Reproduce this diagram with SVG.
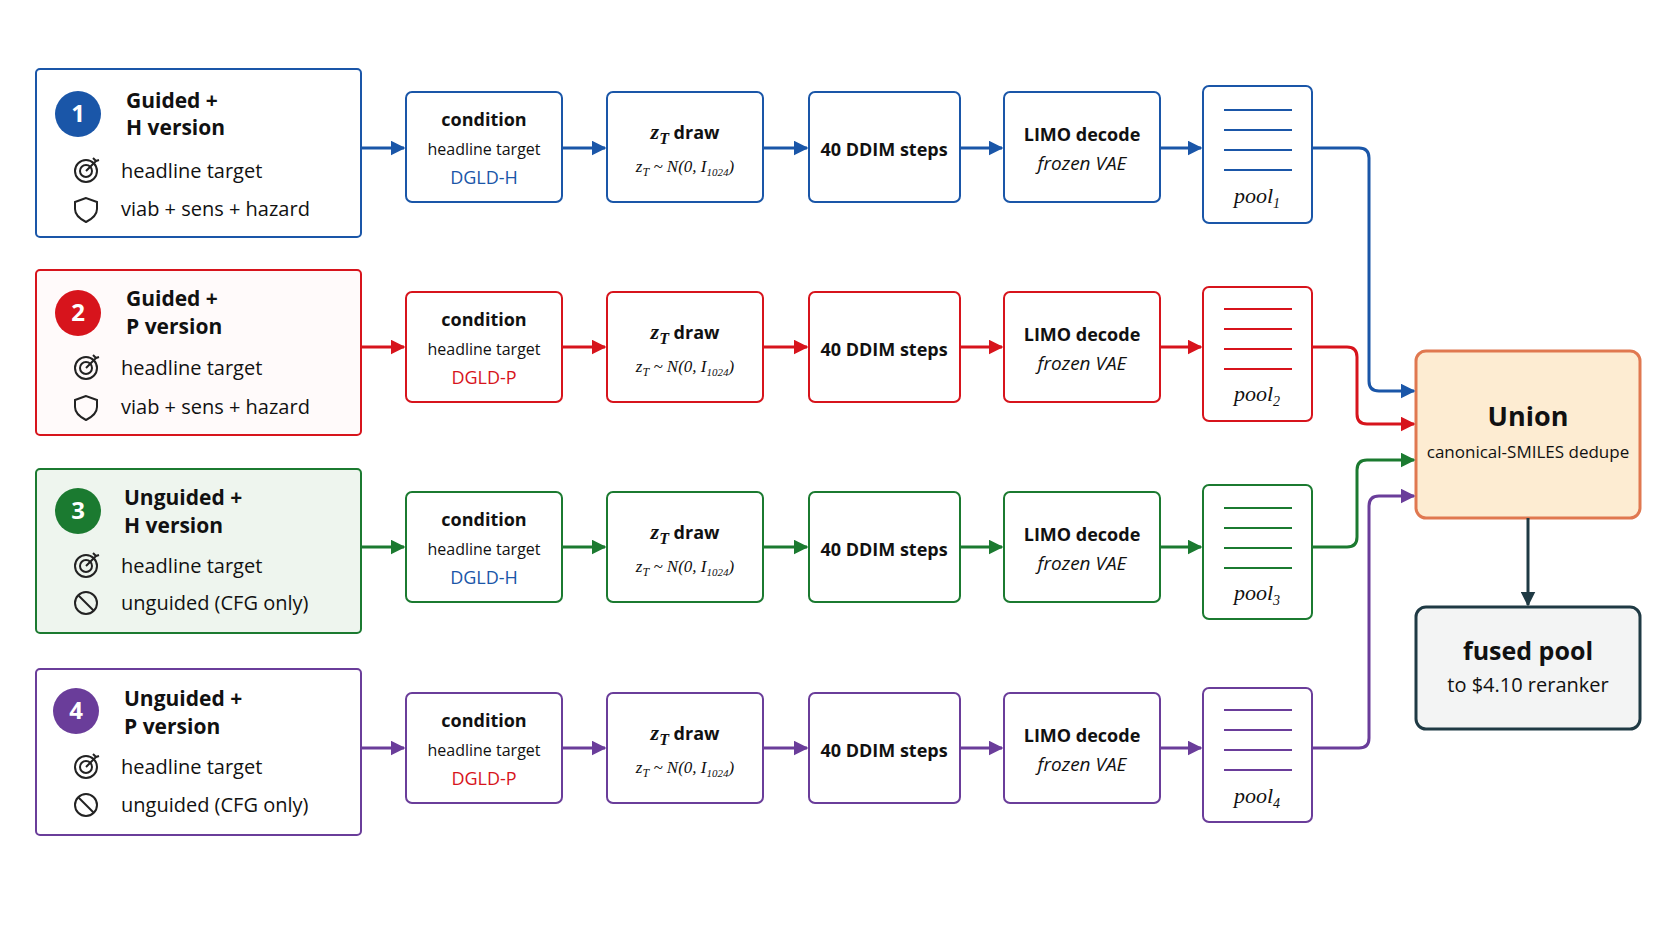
<svg xmlns="http://www.w3.org/2000/svg" width="1672" height="941" viewBox="0 0 1672 941">
<defs>
<marker id="aB" viewBox="0 0 10 10" refX="9" refY="5" markerWidth="5" markerHeight="5" orient="auto" markerUnits="strokeWidth"><path d="M0,0L10,5L0,10z" fill="#1a56a8"/></marker>
<marker id="aR" viewBox="0 0 10 10" refX="9" refY="5" markerWidth="5" markerHeight="5" orient="auto" markerUnits="strokeWidth"><path d="M0,0L10,5L0,10z" fill="#d7141c"/></marker>
<marker id="aG" viewBox="0 0 10 10" refX="9" refY="5" markerWidth="5" markerHeight="5" orient="auto" markerUnits="strokeWidth"><path d="M0,0L10,5L0,10z" fill="#1b7a30"/></marker>
<marker id="aP" viewBox="0 0 10 10" refX="9" refY="5" markerWidth="5" markerHeight="5" orient="auto" markerUnits="strokeWidth"><path d="M0,0L10,5L0,10z" fill="#6a3d9a"/></marker>
<marker id="aK" viewBox="0 0 10 10" refX="9" refY="5" markerWidth="5" markerHeight="5" orient="auto" markerUnits="strokeWidth"><path d="M0,0L10,5L0,10z" fill="#1f3a44"/></marker>
</defs>
<style>
text{font-family:"Open Sans","Noto Sans","Liberation Sans",sans-serif;fill:#111}
.box{fill:#fff;stroke-width:2}
.b{stroke:#1a56a8}.r{stroke:#d7141c}.g{stroke:#1b7a30}.p{stroke:#6a3d9a}
.t{font-size:21px;font-weight:bold}
.it{font-size:20px}
.h{font-size:18px;font-weight:bold;text-anchor:middle}
.s{font-size:16px;text-anchor:middle}
.m{font-family:"Liberation Serif",serif;font-style:italic;text-anchor:middle}
.em{font-size:19px;font-style:italic;text-anchor:middle}
.ln{stroke-width:2}
.c{fill:none;stroke-width:3}
.cb{stroke:#1a56a8;marker-end:url(#aB)}.cr{stroke:#d7141c;marker-end:url(#aR)}.cg{stroke:#1b7a30;marker-end:url(#aG)}.cp{stroke:#6a3d9a;marker-end:url(#aP)}
.ic{fill:none;stroke:#222;stroke-width:2}
</style>
<rect width="1672" height="941" fill="#fff"/>

<g id="row1">
<rect class="box b" x="36" y="69" width="325" height="168" rx="4"/>
<circle cx="78" cy="114" r="23" fill="#1a56a8"/><text x="78" y="122" font-size="24" font-weight="bold" text-anchor="middle" style="fill:#fff">1</text>
<text class="t" x="126" y="108">Guided +</text><text class="t" x="126" y="135">H version</text>
<g class="ic"><circle cx="86" cy="171" r="11"/><circle cx="86" cy="171" r="6"/><path d="M86,171L96,161M93,158l3,3 3,-1"/></g>
<text class="it" x="121" y="178">headline target</text>
<path class="ic" d="M86,198l-11,4v7c0,6 5,10 11,13c6,-3 11,-7 11,-13v-7z"/>
<text class="it" x="121" y="216">viab + sens + hazard</text>
<rect class="box b" x="406" y="92" width="156" height="110" rx="6"/>
<text class="h" x="484" y="126">condition</text><text class="s" x="484" y="155">headline target</text><text class="s" x="484" y="184" style="fill:#1a56a8;font-size:18px">DGLD-H</text>
<rect class="box b" x="607" y="92" width="156" height="110" rx="6"/>
<text class="h" x="685" y="139"><tspan class="m" font-size="22">z</tspan><tspan class="m" font-size="16" dy="5">T</tspan><tspan dy="-5"> draw</tspan></text>
<text class="m" x="685" y="172" font-size="17">z<tspan font-size="12" dy="4">T</tspan><tspan dy="-4"> ~ N(0, I</tspan><tspan font-size="11" dy="4">1024</tspan><tspan dy="-4">)</tspan></text>
<rect class="box b" x="809" y="92" width="151" height="110" rx="6"/>
<text class="h" x="884" y="156">40 DDIM steps</text>
<rect class="box b" x="1004" y="92" width="156" height="110" rx="6"/>
<text class="h" x="1082" y="141">LIMO decode</text><text class="em" x="1082" y="170">frozen VAE</text>
<rect class="box b" x="1203" y="86" width="109" height="137" rx="6"/>
<g class="ln b"><path d="M1224,110H1292M1224,130H1292M1224,150H1292M1224,170H1292"/></g>
<text class="m" x="1257" y="203" font-size="22">pool<tspan font-size="14" dy="5">1</tspan></text>
</g>

<g id="row2">
<rect class="box r" x="36" y="270" width="325" height="165" rx="4" style="fill:#fffafa"/>
<circle cx="78" cy="313" r="23" fill="#d7141c"/><text x="78" y="321" font-size="24" font-weight="bold" text-anchor="middle" style="fill:#fff">2</text>
<text class="t" x="126" y="306">Guided +</text><text class="t" x="126" y="334">P version</text>
<g class="ic"><circle cx="86" cy="368" r="11"/><circle cx="86" cy="368" r="6"/><path d="M86,368L96,358M93,355l3,3 3,-1"/></g>
<text class="it" x="121" y="375">headline target</text>
<path class="ic" d="M86,396l-11,4v7c0,6 5,10 11,13c6,-3 11,-7 11,-13v-7z"/>
<text class="it" x="121" y="414">viab + sens + hazard</text>
<rect class="box r" x="406" y="292" width="156" height="110" rx="6"/>
<text class="h" x="484" y="326">condition</text><text class="s" x="484" y="355">headline target</text><text class="s" x="484" y="384" style="fill:#d7141c;font-size:18px">DGLD-P</text>
<rect class="box r" x="607" y="292" width="156" height="110" rx="6"/>
<text class="h" x="685" y="339"><tspan class="m" font-size="22">z</tspan><tspan class="m" font-size="16" dy="5">T</tspan><tspan dy="-5"> draw</tspan></text>
<text class="m" x="685" y="372" font-size="17">z<tspan font-size="12" dy="4">T</tspan><tspan dy="-4"> ~ N(0, I</tspan><tspan font-size="11" dy="4">1024</tspan><tspan dy="-4">)</tspan></text>
<rect class="box r" x="809" y="292" width="151" height="110" rx="6"/>
<text class="h" x="884" y="356">40 DDIM steps</text>
<rect class="box r" x="1004" y="292" width="156" height="110" rx="6"/>
<text class="h" x="1082" y="341">LIMO decode</text><text class="em" x="1082" y="370">frozen VAE</text>
<rect class="box r" x="1203" y="287" width="109" height="134" rx="6"/>
<g class="ln r"><path d="M1224,309H1292M1224,329H1292M1224,349H1292M1224,369H1292"/></g>
<text class="m" x="1257" y="401" font-size="22">pool<tspan font-size="14" dy="5">2</tspan></text>
</g>

<g id="row3">
<rect class="box g" x="36" y="469" width="325" height="164" rx="4" style="fill:#eef5ee"/>
<circle cx="78" cy="511" r="23" fill="#1b7a30"/><text x="78" y="519" font-size="24" font-weight="bold" text-anchor="middle" style="fill:#fff">3</text>
<text class="t" x="124" y="505">Unguided +</text><text class="t" x="124" y="533">H version</text>
<g class="ic"><circle cx="86" cy="566" r="11"/><circle cx="86" cy="566" r="6"/><path d="M86,566L96,556M93,553l3,3 3,-1"/></g>
<text class="it" x="121" y="573">headline target</text>
<g class="ic"><circle cx="86" cy="603" r="11"/><path d="M78,595L94,611"/></g>
<text class="it" x="121" y="610">unguided (CFG only)</text>
<rect class="box g" x="406" y="492" width="156" height="110" rx="6"/>
<text class="h" x="484" y="526">condition</text><text class="s" x="484" y="555">headline target</text><text class="s" x="484" y="584" style="fill:#1a56a8;font-size:18px">DGLD-H</text>
<rect class="box g" x="607" y="492" width="156" height="110" rx="6"/>
<text class="h" x="685" y="539"><tspan class="m" font-size="22">z</tspan><tspan class="m" font-size="16" dy="5">T</tspan><tspan dy="-5"> draw</tspan></text>
<text class="m" x="685" y="572" font-size="17">z<tspan font-size="12" dy="4">T</tspan><tspan dy="-4"> ~ N(0, I</tspan><tspan font-size="11" dy="4">1024</tspan><tspan dy="-4">)</tspan></text>
<rect class="box g" x="809" y="492" width="151" height="110" rx="6"/>
<text class="h" x="884" y="556">40 DDIM steps</text>
<rect class="box g" x="1004" y="492" width="156" height="110" rx="6"/>
<text class="h" x="1082" y="541">LIMO decode</text><text class="em" x="1082" y="570">frozen VAE</text>
<rect class="box g" x="1203" y="485" width="109" height="134" rx="6"/>
<g class="ln g"><path d="M1224,508H1292M1224,528H1292M1224,548H1292M1224,568H1292"/></g>
<text class="m" x="1257" y="600" font-size="22">pool<tspan font-size="14" dy="5">3</tspan></text>
</g>

<g id="row4">
<rect class="box p" x="36" y="669" width="325" height="166" rx="4"/>
<circle cx="76" cy="711" r="23" fill="#6a3d9a"/><text x="76" y="719" font-size="24" font-weight="bold" text-anchor="middle" style="fill:#fff">4</text>
<text class="t" x="124" y="706">Unguided +</text><text class="t" x="124" y="734">P version</text>
<g class="ic"><circle cx="86" cy="767" r="11"/><circle cx="86" cy="767" r="6"/><path d="M86,767L96,757M93,754l3,3 3,-1"/></g>
<text class="it" x="121" y="774">headline target</text>
<g class="ic"><circle cx="86" cy="805" r="11"/><path d="M78,797L94,813"/></g>
<text class="it" x="121" y="812">unguided (CFG only)</text>
<rect class="box p" x="406" y="693" width="156" height="110" rx="6"/>
<text class="h" x="484" y="727">condition</text><text class="s" x="484" y="756">headline target</text><text class="s" x="484" y="785" style="fill:#d7141c;font-size:18px">DGLD-P</text>
<rect class="box p" x="607" y="693" width="156" height="110" rx="6"/>
<text class="h" x="685" y="740"><tspan class="m" font-size="22">z</tspan><tspan class="m" font-size="16" dy="5">T</tspan><tspan dy="-5"> draw</tspan></text>
<text class="m" x="685" y="773" font-size="17">z<tspan font-size="12" dy="4">T</tspan><tspan dy="-4"> ~ N(0, I</tspan><tspan font-size="11" dy="4">1024</tspan><tspan dy="-4">)</tspan></text>
<rect class="box p" x="809" y="693" width="151" height="110" rx="6"/>
<text class="h" x="884" y="757">40 DDIM steps</text>
<rect class="box p" x="1004" y="693" width="156" height="110" rx="6"/>
<text class="h" x="1082" y="742">LIMO decode</text><text class="em" x="1082" y="771">frozen VAE</text>
<rect class="box p" x="1203" y="688" width="109" height="134" rx="6"/>
<g class="ln p"><path d="M1224,710H1292M1224,730H1292M1224,750H1292M1224,770H1292"/></g>
<text class="m" x="1257" y="803" font-size="22">pool<tspan font-size="14" dy="5">4</tspan></text>
</g>

<g id="union">
<rect x="1416" y="351" width="224" height="167" rx="10" fill="#fdecd2" stroke="#e07850" stroke-width="3"/>
<text x="1528" y="426" font-size="27" font-weight="bold" text-anchor="middle">Union</text>
<text x="1528" y="458" font-size="17" text-anchor="middle">canonical-SMILES dedupe</text>
</g>
<g id="fused">
<rect x="1416" y="607" width="224" height="122" rx="10" fill="#f3f4f4" stroke="#1f3a44" stroke-width="3"/>
<text x="1528" y="660" font-size="25" font-weight="bold" text-anchor="middle">fused pool</text>
<text x="1528" y="692" font-size="20" text-anchor="middle">to $4.10 reranker</text>
</g>

<g id="connectors">
<path class="c cb" d="M361,148H404"/><path class="c cb" d="M562,148H605"/><path class="c cb" d="M763,148H807"/><path class="c cb" d="M960,148H1002"/><path class="c cb" d="M1160,148H1201"/>
<path class="c cr" d="M361,347H404"/><path class="c cr" d="M562,347H605"/><path class="c cr" d="M763,347H807"/><path class="c cr" d="M960,347H1002"/><path class="c cr" d="M1160,347H1201"/>
<path class="c cg" d="M361,547H404"/><path class="c cg" d="M562,547H605"/><path class="c cg" d="M763,547H807"/><path class="c cg" d="M960,547H1002"/><path class="c cg" d="M1160,547H1201"/>
<path class="c cp" d="M361,748H404"/><path class="c cp" d="M562,748H605"/><path class="c cp" d="M763,748H807"/><path class="c cp" d="M960,748H1002"/><path class="c cp" d="M1160,748H1201"/>
<path class="c cb" d="M1312,148H1359Q1369,148 1369,158V381Q1369,391 1379,391H1414"/>
<path class="c cr" d="M1312,347H1347Q1357,347 1357,357V414Q1357,424 1367,424H1414"/>
<path class="c cg" d="M1312,547H1347Q1357,547 1357,537V470Q1357,460 1367,460H1414"/>
<path class="c cp" d="M1312,748H1359Q1369,748 1369,738V506Q1369,496 1379,496H1414"/>
<path class="c" stroke="#1f3a44" marker-end="url(#aK)" d="M1528,518V605"/>
</g>
</svg>
